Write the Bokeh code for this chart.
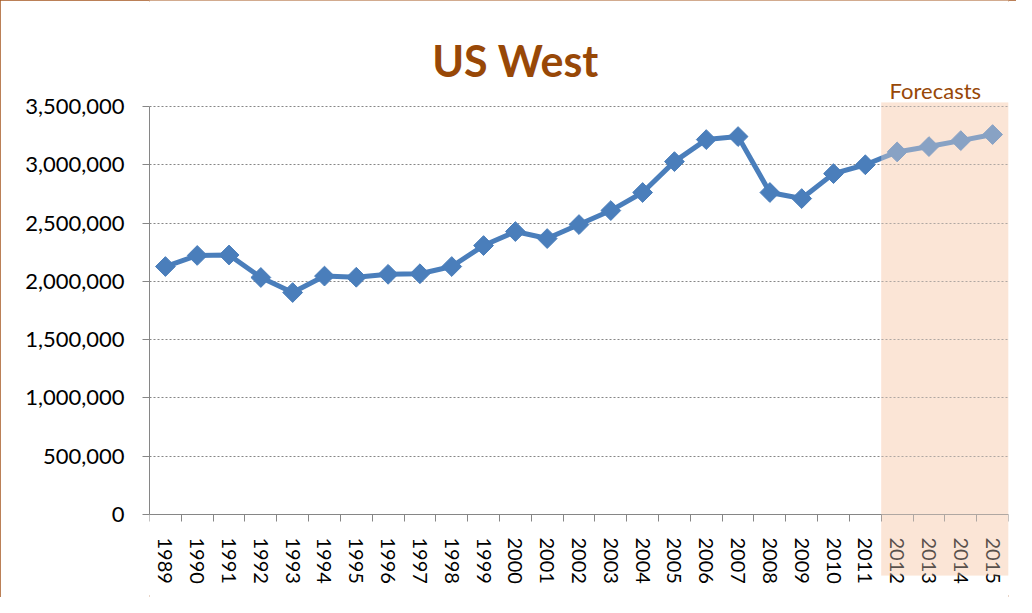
from bokeh.plotting import figure
from bokeh.models import Range1d, FixedTicker, NumeralTickFormatter, BoxAnnotation, Label
from bokeh.embed import file_html
from bokeh.resources import INLINE

years = [1989, 1990, 1991, 1992, 1993, 1994, 1995, 1996, 1997, 1998, 1999, 2000,
         2001, 2002, 2003, 2004, 2005, 2006, 2007, 2008, 2009, 2010, 2011,
         2012, 2013, 2014, 2015]
values = [2127000, 2222000, 2226000, 2033000, 1904000, 2045000, 2035000, 2060000,
          2065000, 2127000, 2307000, 2427000, 2367000, 2487000, 2607000, 2762000,
          3027000, 3216000, 3242000, 2762000, 2710000, 2924000, 3000000,
          3110000, 3156000, 3207000, 3259000]
forecast_years = [2012, 2013, 2014, 2015]
y_ticks = [0, 500000, 1000000, 1500000, 2000000, 2500000, 3000000, 3500000]

FONT = "Lato"
BROWN = "#984807"
BLUE = "#4A7EBB"
PEACH = "#FBE5D6"
GREY = "#868686"

# frame spans the whole height so that title / forecast note / shading can live in it
p = figure(width=1016, height=597,
           x_range=Range1d(years[0] - 0.5, years[-1] + 0.5),
           y_range=Range1d(-712000, 4409000),
           output_backend="svg", toolbar_location=None,
           min_border_left=149, min_border_right=8,
           min_border_top=0, min_border_bottom=0)
p.outline_line_color = None
p.background_fill_color = "white"
p.border_fill_color = "white"
p.styles = {"outline": "2px solid #A5561F", "outline-offset": "-2px"}

# forecast shading (behind grid)
under = BoxAnnotation(left=forecast_years[0] - 0.5, right=forecast_years[-1] + 0.5,
                      top=3534000, bottom=-523000,
                      fill_color=PEACH, fill_alpha=1.0, line_color=None,
                      level="underlay")
p.add_layout(under)
p.center = [under] + [r for r in p.center if r is not under]

# axes
p.yaxis.ticker = FixedTicker(ticks=y_ticks)
p.yaxis.bounds = (y_ticks[0], y_ticks[-1])
p.yaxis.formatter = NumeralTickFormatter(format="0,0")
p.yaxis.axis_line_color = GREY
p.yaxis.major_tick_line_color = GREY
p.yaxis.major_tick_in = 0
p.yaxis.major_tick_out = 7
p.yaxis.minor_tick_line_color = None
p.yaxis.major_label_text_font = FONT
p.yaxis.major_label_text_font_size = "22px"
p.yaxis.major_label_text_color = "black"
p.yaxis.major_label_standoff = 18

p.xaxis.fixed_location = 0
p.xaxis.ticker = FixedTicker(ticks=years, minor_ticks=[y - 0.5 for y in years] + [years[-1] + 0.5])
p.xaxis.major_label_orientation = "vertical"
p.xaxis.axis_line_color = GREY
p.xaxis.major_tick_in = 0
p.xaxis.major_tick_out = 0
p.xaxis.minor_tick_in = 0
p.xaxis.minor_tick_out = 7
p.xaxis.minor_tick_line_color = GREY
p.xaxis.major_label_text_font = FONT
p.xaxis.major_label_text_font_size = "20px"
p.xaxis.major_label_text_color = "black"
p.xaxis.major_label_standoff = 16

p.xgrid.visible = False
p.ygrid.ticker = FixedTicker(ticks=y_ticks)
p.ygrid.grid_line_color = GREY
p.ygrid.grid_line_dash = "2 2"
p.ygrid.grid_line_width = 1

# series
p.line(years, values, line_color=BLUE, line_width=5)
p.scatter(years, values, marker="square", angle=0.785398, size=14,
          fill_color=BLUE, line_color=BLUE)

# tint over forecast region
over = BoxAnnotation(left=forecast_years[0] - 0.5, right=forecast_years[-1] + 0.5,
                     top=3534000, bottom=-523000,
                     fill_color=PEACH, fill_alpha=0.35, line_color=None,
                     level="overlay")
p.add_layout(over)

title = Label(x=2000.0, y=3895000, text="US West", text_align="center",
              text_baseline="alphabetic", text_font=FONT, text_font_style="bold",
              text_font_size="43px", text_color=BROWN)
p.add_layout(title)
fc = Label(x=2013.2, y=3637000, text="Forecasts", text_align="center",
           text_baseline="alphabetic", text_font=FONT,
           text_font_size="22px", text_color=BROWN)
p.add_layout(fc)

open("out.html", "w").write(file_html(p, INLINE))
